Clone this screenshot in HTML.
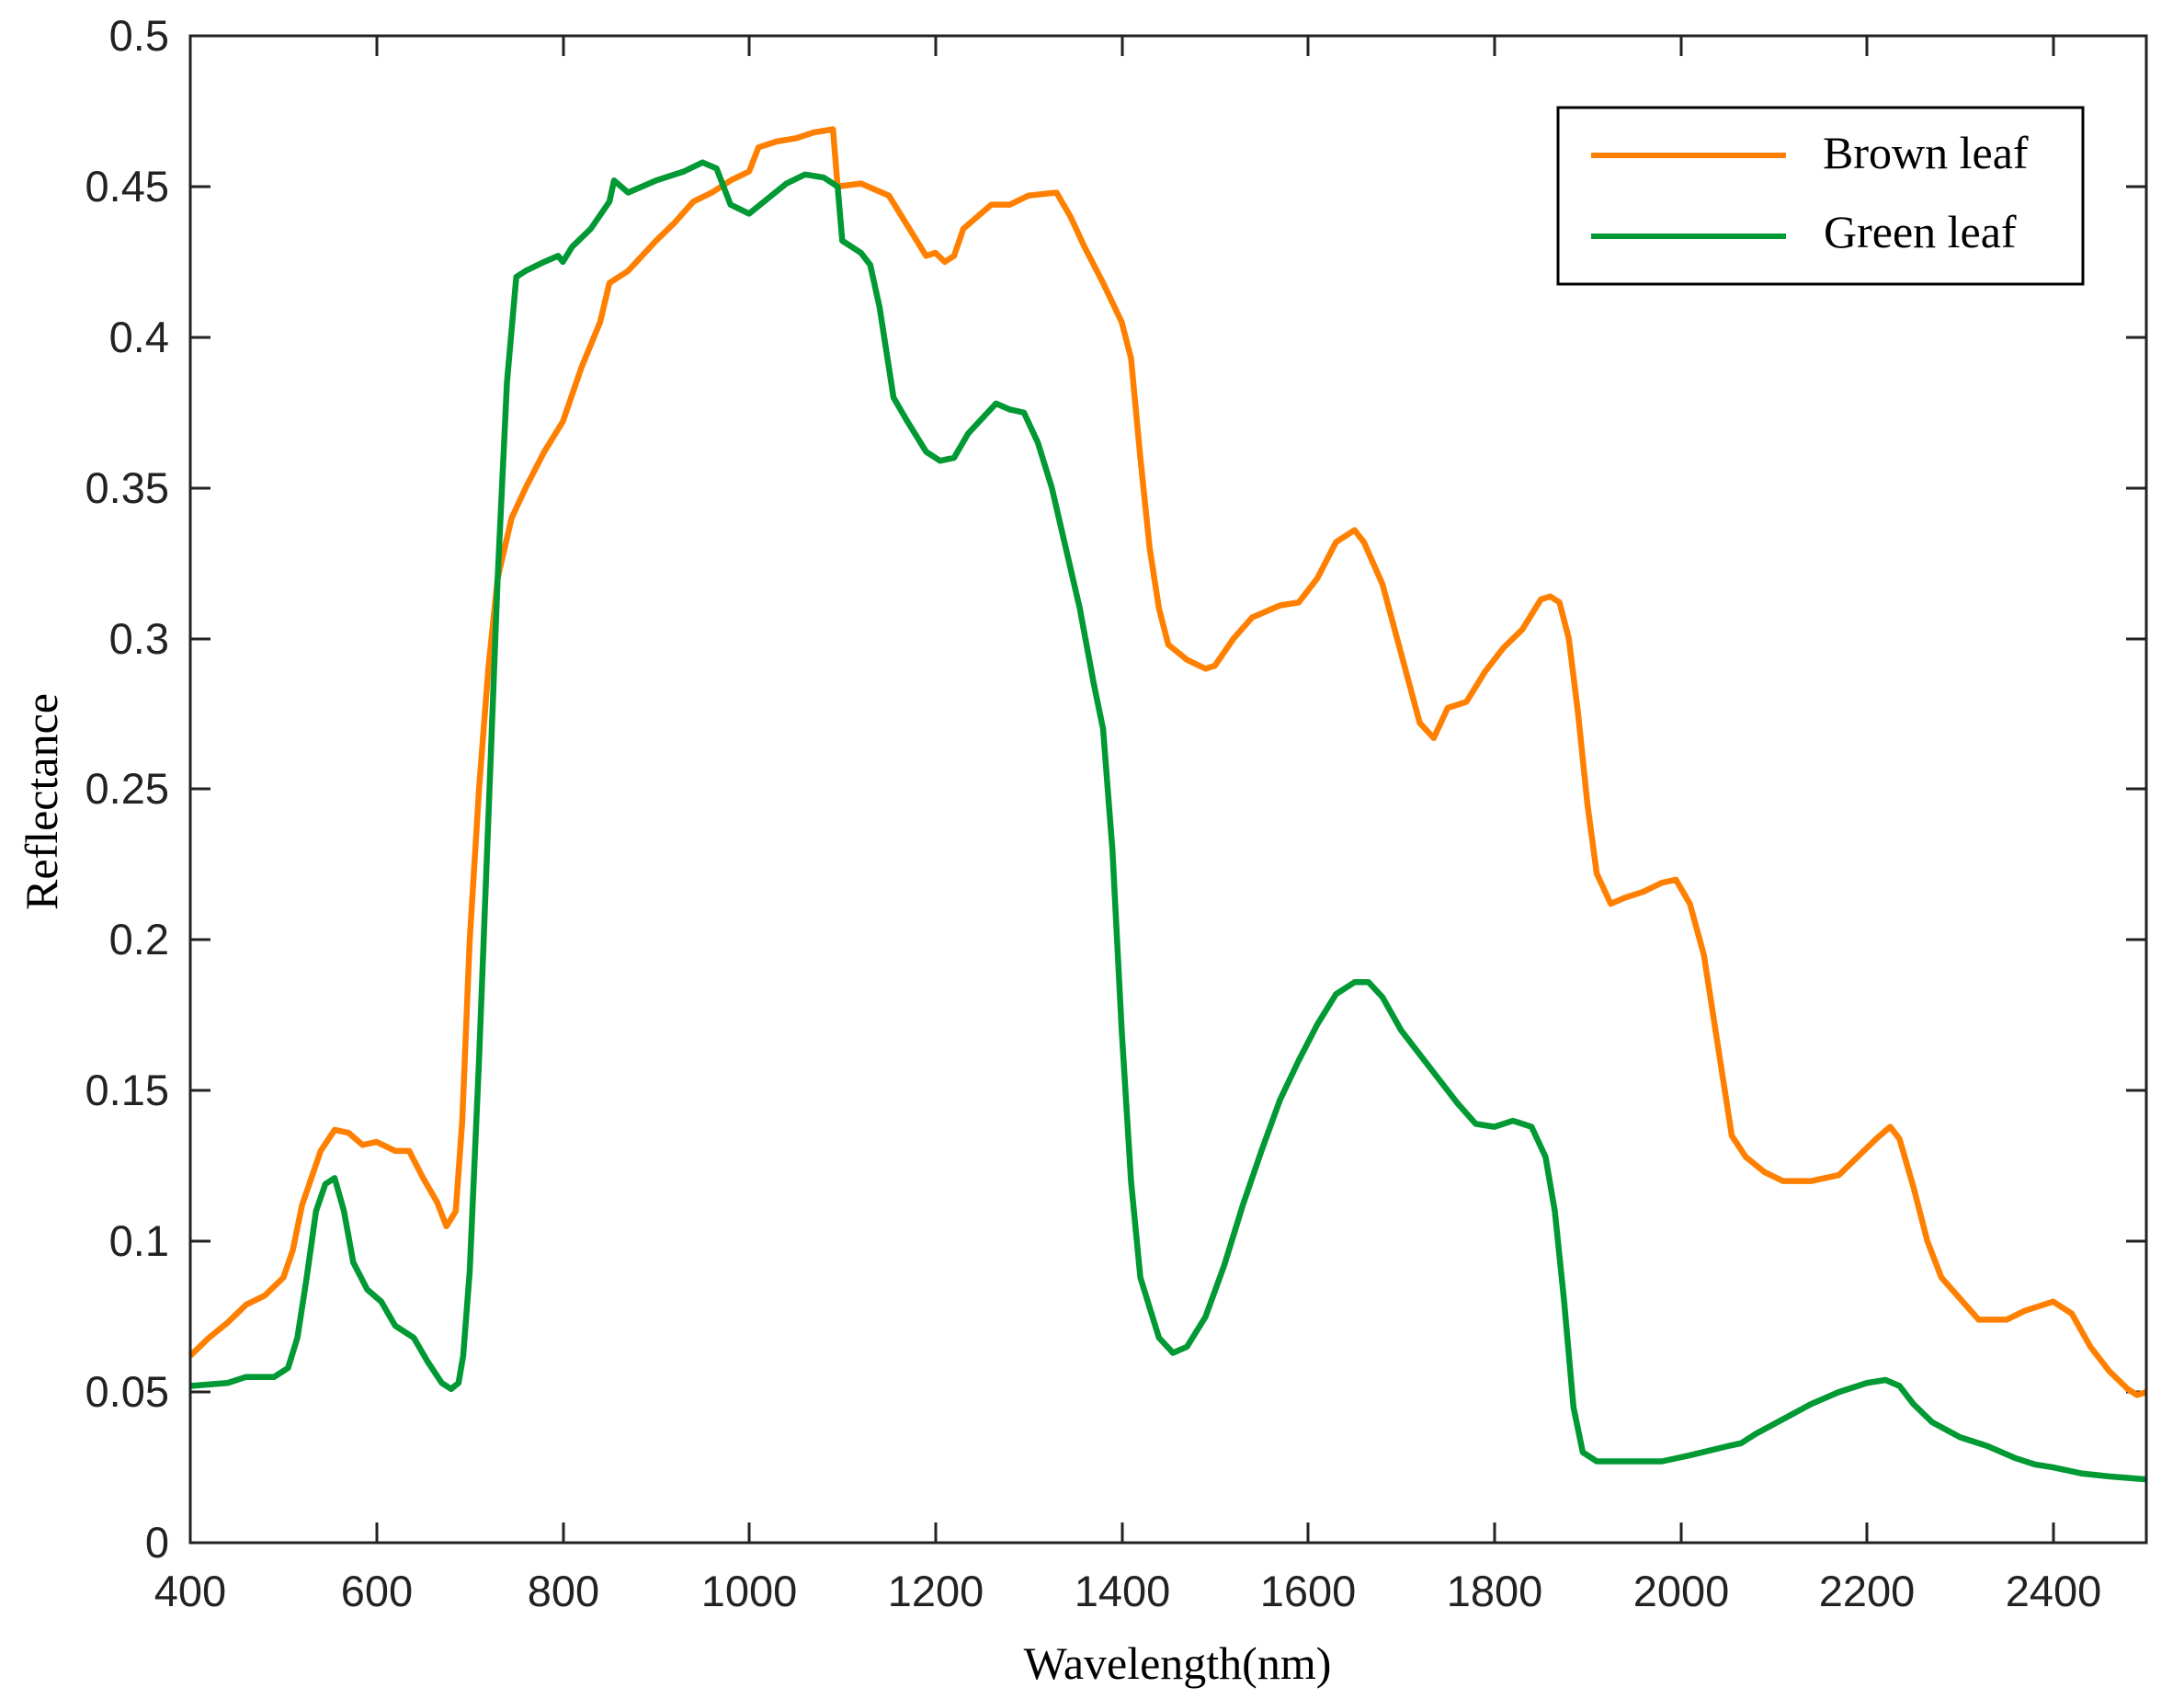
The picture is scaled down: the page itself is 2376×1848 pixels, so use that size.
<!DOCTYPE html>
<html><head><meta charset="utf-8"><style>
html,body{margin:0;padding:0;background:#fff;}
svg{display:block;}
.t{font-family:"Liberation Sans",Arial,sans-serif;font-size:47px;fill:#222;}
.s{font-family:"Liberation Serif","Times New Roman",serif;fill:#000;}
</style></head><body>
<svg width="2376" height="1848" viewBox="0 0 2376 1848" xmlns="http://www.w3.org/2000/svg">
<rect width="2376" height="1848" fill="#fff"/>
<g stroke="#222" stroke-width="3">
<line x1="207" y1="1678" x2="207" y2="1656"/><line x1="207" y1="39" x2="207" y2="61"/>
<line x1="410" y1="1678" x2="410" y2="1656"/><line x1="410" y1="39" x2="410" y2="61"/>
<line x1="613" y1="1678" x2="613" y2="1656"/><line x1="613" y1="39" x2="613" y2="61"/>
<line x1="815" y1="1678" x2="815" y2="1656"/><line x1="815" y1="39" x2="815" y2="61"/>
<line x1="1018" y1="1678" x2="1018" y2="1656"/><line x1="1018" y1="39" x2="1018" y2="61"/>
<line x1="1221" y1="1678" x2="1221" y2="1656"/><line x1="1221" y1="39" x2="1221" y2="61"/>
<line x1="1423" y1="1678" x2="1423" y2="1656"/><line x1="1423" y1="39" x2="1423" y2="61"/>
<line x1="1626" y1="1678" x2="1626" y2="1656"/><line x1="1626" y1="39" x2="1626" y2="61"/>
<line x1="1829" y1="1678" x2="1829" y2="1656"/><line x1="1829" y1="39" x2="1829" y2="61"/>
<line x1="2031" y1="1678" x2="2031" y2="1656"/><line x1="2031" y1="39" x2="2031" y2="61"/>
<line x1="2234" y1="1678" x2="2234" y2="1656"/><line x1="2234" y1="39" x2="2234" y2="61"/>
<line x1="207" y1="1514" x2="229" y2="1514"/><line x1="2335" y1="1514" x2="2313" y2="1514"/>
<line x1="207" y1="1350" x2="229" y2="1350"/><line x1="2335" y1="1350" x2="2313" y2="1350"/>
<line x1="207" y1="1186" x2="229" y2="1186"/><line x1="2335" y1="1186" x2="2313" y2="1186"/>
<line x1="207" y1="1022" x2="229" y2="1022"/><line x1="2335" y1="1022" x2="2313" y2="1022"/>
<line x1="207" y1="858" x2="229" y2="858"/><line x1="2335" y1="858" x2="2313" y2="858"/>
<line x1="207" y1="695" x2="229" y2="695"/><line x1="2335" y1="695" x2="2313" y2="695"/>
<line x1="207" y1="531" x2="229" y2="531"/><line x1="2335" y1="531" x2="2313" y2="531"/>
<line x1="207" y1="367" x2="229" y2="367"/><line x1="2335" y1="367" x2="2313" y2="367"/>
<line x1="207" y1="203" x2="229" y2="203"/><line x1="2335" y1="203" x2="2313" y2="203"/>
</g>
<g transform="translate(207,1678) scale(1.013333,-3278)" fill="none" stroke-width="6.5" stroke-linejoin="round">
<polyline vector-effect="non-scaling-stroke" stroke="#ff8000" points="0,0.062 20,0.068 40,0.073 60,0.079 80,0.082 100,0.088 110,0.097 120,0.112 140,0.130 155,0.137 170,0.136 185,0.132 200,0.133 220,0.130 235,0.130 250,0.121 265,0.113 275,0.105 285,0.110 292,0.140 300,0.200 310,0.250 320,0.290 330,0.320 345,0.340 360,0.350 380,0.362 400,0.372 420,0.390 440,0.405 450,0.418 470,0.422 500,0.432 520,0.438 540,0.445 560,0.448 580,0.452 600,0.455 610,0.463 630,0.465 650,0.466 670,0.468 690,0.469 695,0.450 720,0.451 750,0.447 770,0.437 790,0.427 800,0.428 810,0.425 820,0.427 830,0.436 860,0.444 880,0.444 900,0.447 930,0.448 945,0.440 960,0.430 980,0.418 1000,0.405 1010,0.393 1020,0.360 1030,0.330 1040,0.310 1050,0.298 1070,0.293 1090,0.290 1100,0.291 1120,0.300 1140,0.307 1170,0.311 1190,0.312 1210,0.320 1230,0.332 1250,0.336 1260,0.332 1280,0.318 1300,0.295 1320,0.272 1335,0.267 1350,0.277 1370,0.279 1390,0.289 1410,0.297 1430,0.303 1450,0.313 1460,0.314 1470,0.312 1480,0.300 1490,0.275 1500,0.245 1510,0.222 1525,0.212 1540,0.214 1560,0.216 1580,0.219 1595,0.220 1610,0.212 1625,0.195 1640,0.165 1655,0.135 1670,0.128 1690,0.123 1710,0.120 1740,0.120 1770,0.122 1790,0.128 1810,0.134 1825,0.138 1835,0.134 1850,0.118 1865,0.100 1880,0.088 1900,0.081 1920,0.074 1950,0.074 1970,0.077 1990,0.079 2000,0.080 2020,0.076 2040,0.065 2060,0.057 2080,0.051 2090,0.049 2100,0.050"/>
<polyline vector-effect="non-scaling-stroke" stroke="#009933" points="0,0.052 40,0.053 60,0.055 90,0.055 105,0.058 115,0.068 125,0.088 135,0.110 145,0.119 155,0.121 165,0.110 175,0.093 190,0.084 205,0.080 220,0.072 240,0.068 255,0.060 270,0.053 280,0.051 288,0.053 293,0.062 300,0.090 310,0.160 320,0.240 330,0.320 340,0.385 350,0.420 360,0.422 380,0.425 395,0.427 400,0.425 410,0.430 430,0.436 450,0.445 455,0.452 470,0.448 500,0.452 530,0.455 550,0.458 565,0.456 580,0.444 600,0.441 620,0.446 640,0.451 660,0.454 680,0.453 695,0.450 700,0.432 720,0.428 730,0.424 740,0.410 755,0.380 770,0.372 790,0.362 805,0.359 820,0.360 835,0.368 850,0.373 865,0.378 880,0.376 895,0.375 910,0.365 925,0.350 940,0.330 955,0.310 970,0.285 980,0.270 990,0.230 1000,0.170 1010,0.120 1020,0.088 1040,0.068 1055,0.063 1070,0.065 1090,0.075 1110,0.092 1130,0.112 1150,0.130 1170,0.147 1190,0.160 1210,0.172 1230,0.182 1250,0.186 1265,0.186 1280,0.181 1300,0.170 1320,0.162 1340,0.154 1360,0.146 1380,0.139 1400,0.138 1420,0.140 1440,0.138 1455,0.128 1465,0.110 1475,0.080 1485,0.045 1495,0.030 1510,0.027 1550,0.027 1580,0.027 1610,0.029 1650,0.032 1665,0.033 1680,0.036 1710,0.041 1740,0.046 1770,0.050 1800,0.053 1820,0.054 1835,0.052 1850,0.046 1870,0.040 1900,0.035 1930,0.032 1960,0.028 1980,0.026 2000,0.025 2030,0.023 2060,0.022 2100,0.021"/>
</g>
<rect x="207" y="39" width="2128" height="1639" fill="none" stroke="#222" stroke-width="3"/>
<g class="t" text-anchor="end">
<text x="184" y="55">0.5</text><text x="184" y="219">0.45</text><text x="184" y="383">0.4</text>
<text x="184" y="547">0.35</text><text x="184" y="711">0.3</text><text x="184" y="874">0.25</text>
<text x="184" y="1038">0.2</text><text x="184" y="1202">0.15</text><text x="184" y="1366">0.1</text>
<text x="184" y="1530">0.05</text><text x="184" y="1694">0</text>
</g>
<g class="t" text-anchor="middle">
<text x="207" y="1747">400</text><text x="410" y="1747">600</text><text x="613" y="1747">800</text>
<text x="815" y="1747">1000</text><text x="1018" y="1747">1200</text><text x="1221" y="1747">1400</text>
<text x="1423" y="1747">1600</text><text x="1626" y="1747">1800</text><text x="1829" y="1747">2000</text>
<text x="2031" y="1747">2200</text><text x="2234" y="1747">2400</text>
</g>
<text class="s" x="1281" y="1826" font-size="50" text-anchor="middle">Wavelength(nm)</text>
<text class="s" font-size="50" text-anchor="middle" transform="translate(62,872) rotate(-90)">Reflectance</text>
<rect x="1695" y="117" width="571" height="192" fill="#fff" stroke="#000" stroke-width="3"/>
<line x1="1731" y1="169" x2="1943" y2="169" stroke="#ff8000" stroke-width="6"/>
<line x1="1731" y1="257" x2="1943" y2="257" stroke="#009933" stroke-width="6"/>
<text class="s" x="1983" y="183" font-size="50">Brown leaf</text>
<text class="s" x="1984" y="269" font-size="50">Green leaf</text>
</svg>
</body></html>
